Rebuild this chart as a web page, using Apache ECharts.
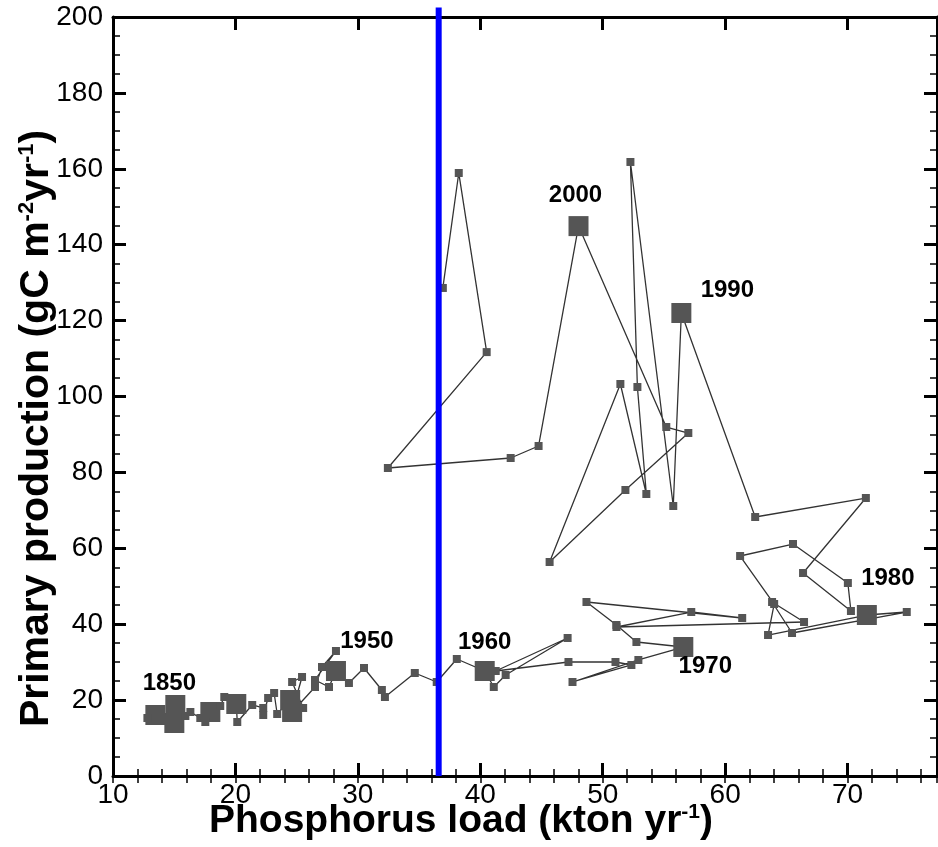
<!DOCTYPE html>
<html><head><meta charset="utf-8">
<script src="https://cdn.jsdelivr.net/npm/echarts@6/dist/echarts.min.js"></script>
<style>html,body{margin:0;padding:0;background:#fff}#c{width:938px;height:847px}</style>
</head><body><div id="c"></div>
<script>
// ---- data ----
const xLoad = [13.46,12.81,15.01,15.09,15.91,16.32,17.13,17.95,17.54,18.76,19.09,20.07,20.15,21.37,22.27,22.27,22.67,23.16,23.41,24.47,25.53,24.63,25.44,24.63,26.50,27.07,28.21,26.50,27.64,28.21,
  29.27,30.50,31.96,32.21,34.65,36.44,38.08,40.36,41.10,42.07,47.13,41.26,47.20,51.04,52.34,47.53,52.91,56.58,52.75,51.12,48.67,61.39,57.23,51.12,66.44,63.83,65.46,74.83,71.57,63.50,
  64.00,61.22,65.54,70.02,70.27,66.36,71.49,62.45,56.42,55.76,52.26,52.83,53.56,51.44,45.66,51.85,56.99,55.19,48.02,44.76,42.48,32.45,40.52,38.24,36.94];
const yProd = [16.07,15.28,13.97,18.71,15.81,16.86,15.28,16.86,14.23,18.45,20.82,18.97,14.23,18.71,17.92,16.07,20.55,21.87,16.34,20.03,17.92,24.77,26.09,16.86,23.45,28.72,32.94,25.30,23.45,27.67,
  24.51,28.46,22.66,20.82,27.14,24.77,30.83,27.67,23.45,26.61,36.36,27.67,30.04,30.04,29.25,24.77,30.57,33.99,35.31,39.79,45.85,41.63,43.21,39.26,40.58,45.85,37.68,43.21,42.42,37.15,
  45.32,57.97,61.13,50.86,43.48,53.49,73.25,68.25,122.0,71.15,161.8,102.5,74.31,103.3,56.39,75.36,90.38,91.96,144.9,86.96,83.79,81.16,111.7,158.9,128.6];
// 1 = decade marker (large square)
const bigMarker = [1,0,1,1,0,0,0,1,0,0,0,1,0,0,0,0,0,0,0,1,0,0,0,1,0,0,0,0,0,1,
  0,0,0,0,0,0,0,1,0,0,0,0,0,0,0,0,0,1,0,0,0,0,0,0,0,0,0,0,1,0,
  0,0,0,0,0,0,0,0,1,0,0,0,0,0,0,0,0,0,1,0,0,0,0,0,0];
const decadeIdx = [0,29,37,47,58,68,78];
const decadeText = ['1850','1950','1960','1970','1980','1990','2000'];
const xTicks = [10,20,30,40,50,60,70];
const yTicks = [0,20,40,60,80,100,120,140,160,180,200];
const thresholdLoad = [36.6];
const xTitle = 'Phosphorus load (kton yr{sup|-1})';
const yTitle = 'Primary production (gC m{sup|-2}yr{sup|-1})';

// ---- styles ----
const FONT = "'Liberation Sans', Arial, Helvetica, sans-serif";
const LABEL_OFFSET = {'1850':[14,-32],'1950':[31,-30],'1960':[0,-29],'1970':[22,19],'1980':[21,-37],'1990':[46,-23],'2000':[-3,-31]};
const X_MIN = 10, X_MAX = 77.3, Y_MIN = 0, Y_MAX = 200;

const pts = xLoad.map((x, i) => ({
  value: [x, yProd[i]],
  symbolSize: bigMarker[i] ? 20 : 8
}));
decadeIdx.forEach((idx, k) => {
  const t = decadeText[k];
  pts[idx].label = {show: true, formatter: t, position: 'inside', offset: LABEL_OFFSET[t],
    color: '#000', fontSize: 24, fontWeight: 'bold', fontFamily: FONT};
});

const line3 = {show: true, onZero: false, lineStyle: {color: '#000', width: 3}};
function xAx(pos, major, withLabel) {
  return {
    type: 'value', position: pos, min: X_MIN, max: X_MAX, interval: major ? 10 : 2,
    axisLine: major ? line3 : {show: false},
    axisTick: {show: true, inside: true, length: major ? 13 : 7, lineStyle: {color: '#000', width: major ? 3 : 1.5}},
    axisLabel: withLabel ? {show: true, formatter: v => xTicks.includes(v) ? String(v) : '', fontSize: 28, color: '#000', margin: 5, fontFamily: FONT} : {show: false},
    splitLine: {show: false}
  };
}
const xAxes = [xAx('bottom', true, true), xAx('bottom', false, false), xAx('top', true, false), xAx('top', false, false)];
xAxes[0].name = xTitle;
xAxes[0].nameLocation = 'middle';
xAxes[0].nameGap = 26;
xAxes[0].nameMoveOverlap = false;
xAxes[0].nameTextStyle = {fontSize: 39, fontWeight: 'bold', color: '#000', fontFamily: FONT, verticalAlign: 'top', padding: [0, 128, 0, 0],
  rich: {sup: {fontSize: 21, fontWeight: 'bold', color: '#000', fontFamily: FONT, verticalAlign: 'top', padding: [0, 0, 16, 0]}}};

function yAx(pos, withLabel) {
  return {
    type: 'value', position: pos, min: Y_MIN, max: Y_MAX, interval: 20,
    axisLine: line3,
    axisTick: {show: true, inside: true, length: 13, lineStyle: {color: '#000', width: 3}},
    minorTick: {show: true, splitNumber: 4, length: 7, lineStyle: {color: '#000', width: 1.5}},
    axisLabel: withLabel ? {show: true, formatter: v => yTicks.includes(v) ? String(v) : '', fontSize: 28, color: '#000', margin: 10, fontFamily: FONT} : {show: false},
    splitLine: {show: false}, minorSplitLine: {show: false}
  };
}
const yAxes = [yAx('left', true), yAx('right', false)];
yAxes[0].name = yTitle;
yAxes[0].nameLocation = 'middle';
yAxes[0].nameRotate = 90;
yAxes[0].nameGap = 56;
yAxes[0].nameMoveOverlap = false;
yAxes[0].nameTextStyle = {fontSize: 41, fontWeight: 'bold', color: '#000', fontFamily: FONT, padding: [0, 64, 0, 0],
  rich: {sup: {fontSize: 22, fontWeight: 'bold', color: '#000', fontFamily: FONT, verticalAlign: 'top', padding: [0, 0, 17, 0]}}};

const chart = echarts.init(document.getElementById('c'), null, {renderer: 'canvas'});
chart.setOption({
  animation: false,
  backgroundColor: '#fff',
  grid: {left: 113, right: 1, top: 17, bottom: 71, containLabel: false, outerBoundsMode: 'none'},
  xAxis: xAxes,
  yAxis: yAxes,
  series: [
    {
      type: 'line', xAxisIndex: 0, yAxisIndex: 0, data: pts,
      symbol: 'rect', showAllSymbol: true,
      lineStyle: {color: '#333333', width: 1.3},
      itemStyle: {color: '#555555'},
      emphasis: {disabled: true}, z: 3
    },
    {
      type: 'line', xAxisIndex: 0, yAxisIndex: 0,
      data: [[thresholdLoad[0], Y_MIN], [thresholdLoad[0], 202.5]],
      symbol: 'none', clip: false,
      lineStyle: {color: '#0000ff', width: 6},
      emphasis: {disabled: true}, z: 5
    }
  ]
});
</script>
</body></html>
